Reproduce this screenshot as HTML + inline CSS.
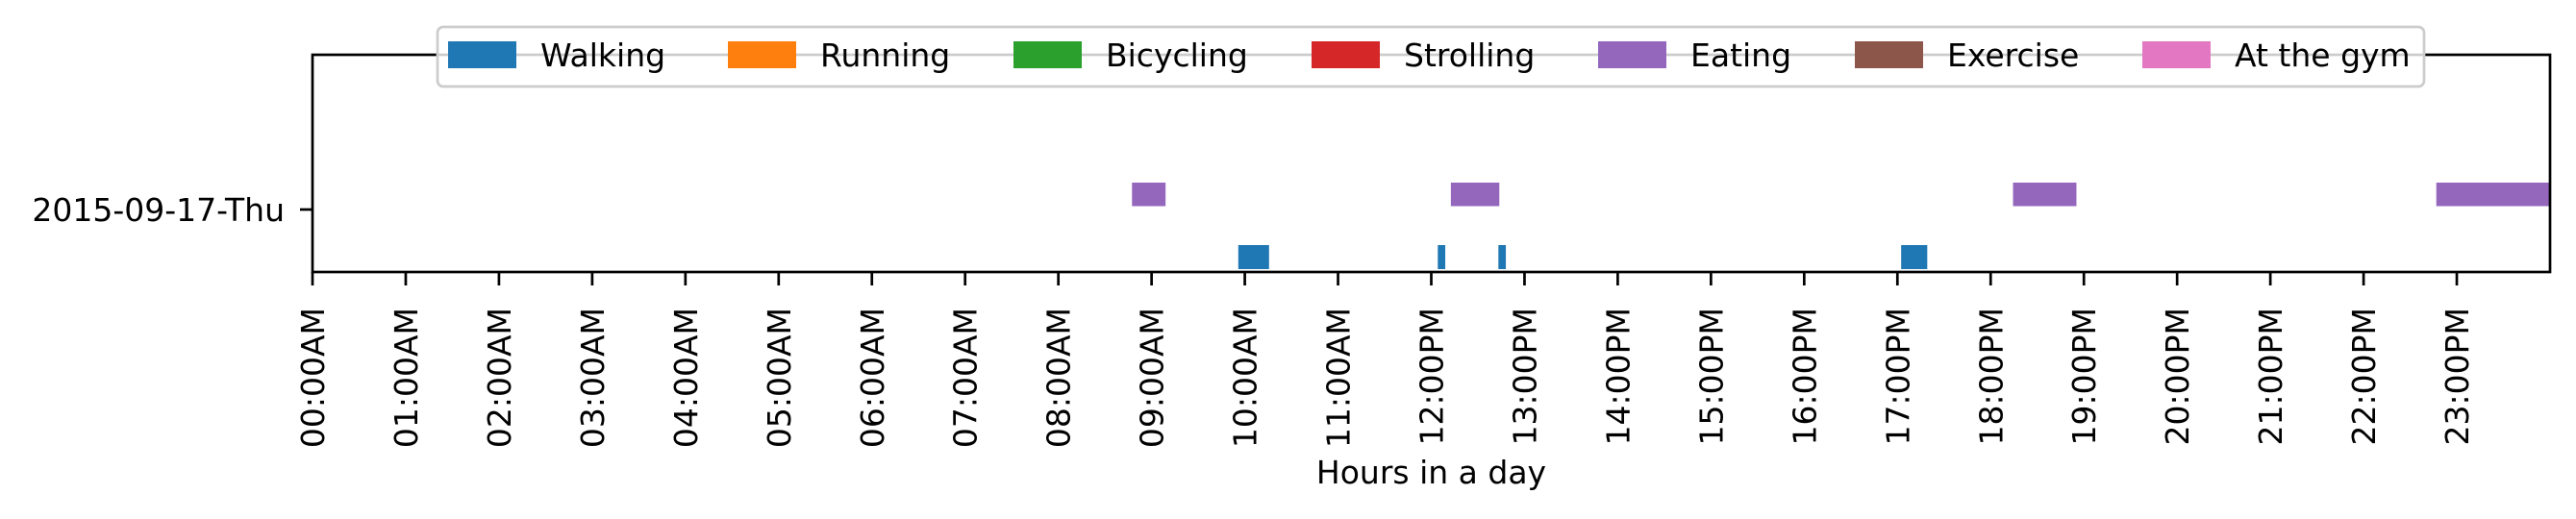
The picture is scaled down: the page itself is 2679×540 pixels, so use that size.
<!DOCTYPE html>
<html><head><meta charset="utf-8"><style>
html,body{margin:0;padding:0;background:#fff;}
svg{display:block;font-family:"DejaVu Sans","Liberation Sans",sans-serif;}
</style></head><body>
<svg id="chart" width="2679" height="540" viewBox="0 0 2679 540">
<rect x="0" y="0" width="2679" height="540" fill="#fff"/>
<g id="bars"></g>
<g id="axes"></g>
<g id="legend"></g>
</svg>
<script>
const hourLabels = ["00:00AM","01:00AM","02:00AM","03:00AM","04:00AM","05:00AM","06:00AM","07:00AM","08:00AM","09:00AM","10:00AM","11:00AM","12:00PM","13:00PM","14:00PM","15:00PM","16:00PM","17:00PM","18:00PM","19:00PM","20:00PM","21:00PM","22:00PM","23:00PM"];
const dayLabels = ["2015-09-17-Thu"];
const activities = ["Walking","Running","Bicycling","Strolling","Eating","Exercise","At the gym"];
const colors = ["#1f77b4","#ff7f0e","#2ca02c","#d62728","#9467bd","#8c564b","#e377c2"];
// intervals: [start hour, end hour]
const walkingStarts = [9.93, 12.07, 12.72, 17.04];
const walkingEnds   = [10.26, 12.15, 12.80, 17.32];
const eatingStarts  = [8.79, 12.21, 18.24, 22.78];
const eatingEnds    = [9.15, 12.73, 18.92, 24.0];

const NS="http://www.w3.org/2000/svg";
const L=325,R=2652,T=57,B=283;
const xS=h=>L+(R-L)*h/24;
function mk(tag,attrs,parent){const e=document.createElementNS(NS,tag);for(const k in attrs)e.setAttribute(k,attrs[k]);parent.appendChild(e);return e;}
const bars=document.getElementById('bars'),axes=document.getElementById('axes'),legend=document.getElementById('legend');

function drawSeries(starts,ends,y0,y1,color,name){
  for(let i=0;i<starts.length;i++){
    const r=mk('rect',{x:xS(starts[i]),y:y0,width:xS(ends[i])-xS(starts[i]),height:y1-y0,fill:color},bars);
    
    
  }
}
drawSeries(eatingStarts,eatingEnds,190,214.5,colors[4],'eating');
drawSeries(walkingStarts,walkingEnds,255,280,colors[0],'walking');

// frame
const fr=mk('rect',{x:L,y:T,width:R-L,height:B-T,fill:'none',stroke:'#000','stroke-width':2.7},axes);


// x ticks
for(let i=0;i<hourLabels.length;i++){
  const x=xS(i);
  const t=mk('line',{x1:x,y1:B,x2:x,y2:B+14,stroke:'#000','stroke-width':2.7},axes);
  
  
  const tx=mk('text',{x:0,y:0,'font-size':33,'text-anchor':'end',transform:`translate(${x+12},${B+37}) rotate(-90)`},axes);
  tx.textContent=hourLabels[i];
  
  
}
// y tick
const yt=mk('line',{x1:L-13,y1:218,x2:L,y2:218,stroke:'#000','stroke-width':2.7},axes);


const yl=mk('text',{x:296,y:230,'font-size':33,'text-anchor':'end'},axes);
yl.textContent=dayLabels[0];


const xl=mk('text',{x:(L+R)/2,y:503,'font-size':33,'text-anchor':'middle'},axes);
xl.textContent='Hours in a day';



// legend
const lb=mk('rect',{x:455,y:28,width:2066,height:62,rx:6,fill:'rgba(255,255,255,0.8)',stroke:'#cccccc','stroke-width':2.7},legend);


const patchX=[466,757,1054,1364,1662,1929,2228];
for(let i=0;i<activities.length;i++){
  const g=mk('g',{},legend);
  
  
  mk('rect',{x:patchX[i],y:43,width:71,height:28,fill:colors[i]},g);
  const t=mk('text',{x:patchX[i]+96,y:69,'font-size':33},g);
  t.textContent=activities[i];
}
</script>
</body></html>
